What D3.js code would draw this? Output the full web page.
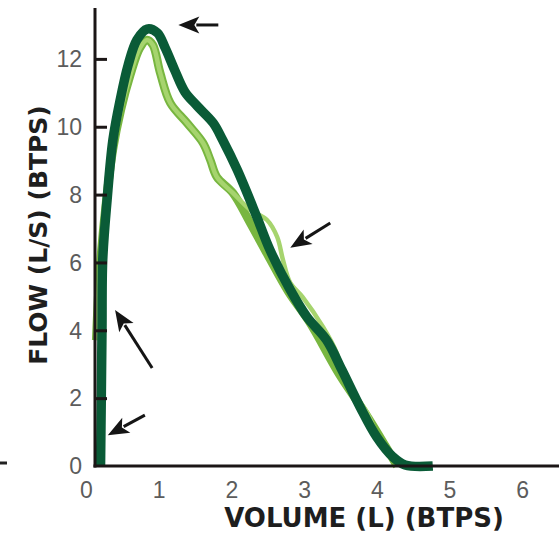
<!DOCTYPE html>
<html>
<head>
<meta charset="utf-8">
<script src="https://cdn.jsdelivr.net/npm/d3@7"></script>
<style>
  html, body { margin: 0; padding: 0; background: #fff; }
  svg { display: block; }
</style>
</head>
<body>
<svg id="chart" width="559" height="534"></svg>
<script>
// Axis ticks
const volumeTicks = [0, 1, 2, 3, 4, 5, 6];
const flowTicks = [0, 2, 4, 6, 8, 10, 12];

// Flow-volume loops, [volume (L), flow (L/s)]
const bestEffort = [
  [0.20, 0.00], [0.21, 1.95], [0.22, 4.00], [0.23, 6.07], [0.29, 7.84],
  [0.37, 9.61], [0.47, 10.79], [0.58, 11.82], [0.70, 12.56], [0.84, 12.88],
  [0.98, 12.77], [1.09, 12.32], [1.22, 11.67], [1.36, 11.03], [1.53, 10.61],
  [1.75, 10.11], [1.88, 9.61], [2.08, 8.73], [2.35, 7.34], [2.53, 6.37],
  [2.81, 5.19], [3.04, 4.39], [3.31, 3.71], [3.52, 2.83], [3.77, 1.74],
  [4.00, 0.85], [4.22, 0.27], [4.39, 0.03], [4.77, 0.00]
];
const secondEffort = [
  [0.14, 3.71], [0.19, 5.78], [0.28, 7.84], [0.37, 9.32], [0.48, 10.50],
  [0.61, 11.53], [0.74, 12.32], [0.84, 12.56], [0.92, 12.41], [1.02, 11.59],
  [1.16, 10.70], [1.39, 10.11], [1.61, 9.52], [1.71, 9.02], [1.80, 8.52],
  [2.02, 8.05], [2.26, 7.16], [2.50, 6.22], [2.78, 5.15], [3.08, 4.22],
  [3.49, 2.68], [3.84, 1.56], [4.11, 0.62], [4.28, 0.00]
];
const thirdEffort = [
  [0.14, 3.71], [0.19, 5.78], [0.28, 7.84], [0.37, 9.32], [0.48, 10.50],
  [0.61, 11.53], [0.74, 12.32], [0.84, 12.56], [0.92, 12.41], [1.02, 11.59],
  [1.16, 10.70], [1.39, 10.11], [1.61, 9.52], [1.71, 9.02], [1.80, 8.52],
  [2.02, 8.05], [2.26, 7.55], [2.49, 7.25], [2.63, 6.75], [2.71, 6.07],
  [2.81, 5.40], [2.98, 4.98], [3.26, 4.10], [3.45, 3.33], [3.56, 2.54],
  [3.87, 1.56], [4.04, 0.77], [4.28, 0.18], [4.36, 0.00]
];

// Annotation arrows, tail -> tip, in [volume, flow]
const arrowFrom = [[1.82, 13.0], [3.36, 7.16], [0.91, 2.89], [0.81, 1.50]];
const arrowTo   = [[1.27, 13.0], [2.81, 6.43], [0.40, 4.60], [0.30, 0.91]];

const svg = d3.select("#chart");
const W = 559, H = 534;
const plotLeft = 95;

const x = d3.scaleLinear().domain([0, 6.6]).range([86, 86 + 72.7 * 6.6]);
const y = d3.scaleLinear().domain([0, 13.5]).range([466, 8]);

// Curves
const line = d3.line()
  .x(d => x(d[0]))
  .y(d => y(d[1]))
  .curve(d3.curveCatmullRom.alpha(0.5));

const curves = svg.append("g").attr("fill", "none")
  .attr("stroke-linejoin", "round").attr("stroke-linecap", "butt");

curves.append("path").datum(secondEffort)
  .attr("d", line).attr("stroke", "#78b640").attr("stroke-width", 8.5);
curves.append("path").datum(thirdEffort)
  .attr("d", line).attr("stroke", "#a6d46e").attr("stroke-width", 4.5);
curves.append("path").datum(bestEffort)
  .attr("d", line).attr("stroke", "#0a5b37").attr("stroke-width", 9.5);

// Axes
const axisColor = "#1b1616";
svg.append("line")
  .attr("x1", plotLeft).attr("x2", plotLeft)
  .attr("y1", y(13.5)).attr("y2", y(0) + 1.5)
  .attr("stroke", axisColor).attr("stroke-width", 3);
svg.append("line")
  .attr("x1", plotLeft - 1.5).attr("x2", W)
  .attr("y1", y(0)).attr("y2", y(0))
  .attr("stroke", axisColor).attr("stroke-width", 3);

// Y ticks point inwards, labels to the left
const yAxis = svg.append("g")
  .attr("transform", `translate(${plotLeft},0)`)
  .call(d3.axisRight(y).tickValues(flowTicks).tickSize(12).tickFormat(""));
yAxis.select(".domain").remove();
yAxis.selectAll(".tick line")
  .attr("stroke", axisColor).attr("stroke-width", 3)
  .filter(d => d === 0).remove();

svg.append("g").selectAll("text").data(flowTicks).join("text")
  .attr("x", 82).attr("y", d => y(d)).attr("dy", "0.36em")
  .attr("text-anchor", "end")
  .attr("font-family", "Liberation Sans, Arial, sans-serif")
  .attr("font-size", 23).attr("fill", "#5c5c5c")
  .text(d => d);

// X tick labels
const xAxis = svg.append("g")
  .attr("transform", `translate(0,${y(0)})`)
  .call(d3.axisBottom(x).tickValues(volumeTicks).tickSize(0).tickPadding(0).tickFormat(d3.format("d")));
xAxis.select(".domain").remove();
xAxis.selectAll(".tick text")
  .attr("y", 32).attr("dy", 0)
  .attr("font-family", "Liberation Sans, Arial, sans-serif")
  .attr("font-size", 23).attr("fill", "#5c5c5c");

// Axis titles
svg.append("text")
  .attr("x", 364).attr("y", 527)
  .attr("text-anchor", "middle")
  .attr("font-family", "DejaVu Sans, sans-serif").attr("font-weight", "bold")
  .attr("font-size", 26).attr("fill", "#1e1e1e")
  .text("VOLUME (L) (BTPS)");
svg.append("text")
  .attr("transform", "translate(47,235) rotate(-90)")
  .attr("text-anchor", "middle")
  .attr("font-family", "DejaVu Sans, sans-serif").attr("font-weight", "bold")
  .attr("font-size", 25).attr("fill", "#1e1e1e")
  .text("FLOW (L/S) (BTPS)");

// Stub of the neighbouring panel's axis
svg.append("line")
  .attr("x1", 0).attr("x2", 7).attr("y1", 463).attr("y2", 463)
  .attr("stroke", "#222").attr("stroke-width", 3);

// Arrows
const arrows = svg.append("g");
arrowFrom.forEach((from, i) => {
  const to = arrowTo[i];
  const x0 = x(from[0]), y0 = y(from[1]);
  const x1 = x(to[0]), y1 = y(to[1]);
  const len = Math.hypot(x1 - x0, y1 - y0);
  const ux = (x1 - x0) / len, uy = (y1 - y0) / len;
  const nx = -uy, ny = ux;
  const headLen = 21, headHalf = 8.5;
  const bx = x1 - ux * headLen, by = y1 - uy * headLen;
  arrows.append("line")
    .attr("x1", x0).attr("y1", y0)
    .attr("x2", bx + ux * 3).attr("y2", by + uy * 3)
    .attr("stroke", "#151515").attr("stroke-width", 3);
  arrows.append("polygon")
    .attr("points", [[x1, y1], [bx + nx * headHalf, by + ny * headHalf], [bx + ux * 5, by + uy * 5], [bx - nx * headHalf, by - ny * headHalf]].map(p => p.join(",")).join(" "))
    .attr("fill", "#151515");
});
</script>
</body>
</html>
